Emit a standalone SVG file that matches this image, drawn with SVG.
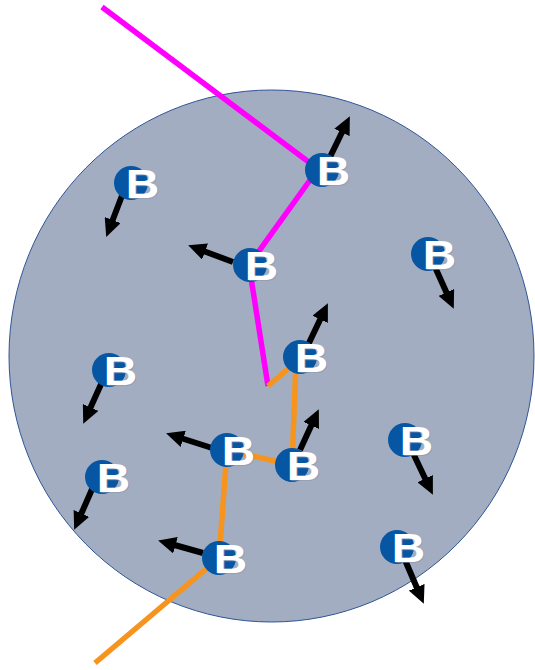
<svg xmlns="http://www.w3.org/2000/svg" width="535" height="670" viewBox="0 0 535 670">
  <style>
    .region { fill: #A3ADC2; stroke: #2F5597; stroke-width: 1; }
    .path-a { fill: none; stroke: #FF00FF; stroke-width: 5.5; stroke-linejoin: round; }
    .path-b { fill: none; stroke: #F7941D; stroke-width: 5.5; stroke-linejoin: round; }
    .vel { fill: none; stroke: #000000; stroke-width: 6; marker-end: url(#head); }
    .dot { fill: #0656A3; }
    .lbl { font-family: "Liberation Sans", Arial, sans-serif; font-weight: bold; font-size: 41px; text-anchor: middle; fill: #FFFFFF; }
    .lbl-sh { font-family: "Liberation Sans", Arial, sans-serif; font-weight: bold; font-size: 41px; text-anchor: middle; fill: #8C97AE; opacity: 0.6; }
  </style>
  <defs>
    <marker id="head" markerUnits="userSpaceOnUse" markerWidth="18" markerHeight="17" viewBox="0 0 18 17" refX="1" refY="8.5" orient="auto">
      <path d="M0,0 L18,8.5 L0,17 z" fill="#000000"/>
    </marker>
    <!-- particle: blue disc with a wide bold B -->
    <g id="particle">
      <circle class="dot" cx="0" cy="0" r="17"/>
      <text class="lbl-sh" transform="translate(12.5,15.5) scale(1.13,1)" x="0" y="0">B</text>
      <text class="lbl" transform="translate(11.5,14.5) scale(1.13,1)" x="0" y="0">B</text>
    </g>
  </defs>

  <ellipse class="region" cx="271.5" cy="356" rx="262.5" ry="266"/>

  <g id="connectors">
    <polyline class="path-a" points="102,7 318,169 249,265 268,386"/>
    <polyline class="path-b" points="268,386 296,362 292,465 227,450 219,558 95,663"/>
  </g>

  <g id="p1">
    <path class="vel" d="M123,193 L112.3,221"/>
    <use href="#particle" x="131" y="183"/>
  </g>
  <g id="p2">
    <path class="vel" d="M330,157 L342.4,131.5"/>
    <use href="#particle" x="322" y="170"/>
  </g>
  <g id="p3">
    <path class="vel" d="M233,262 L204.1,251.2"/>
    <use href="#particle" x="250" y="265"/>
  </g>
  <g id="p4">
    <path class="vel" d="M435,267 L446.8,293.3"/>
    <use href="#particle" x="428" y="254"/>
  </g>
  <g id="p5">
    <path class="vel" d="M308,345 L320.6,318.5"/>
    <use href="#particle" x="300" y="357"/>
  </g>
  <g id="p6">
    <path class="vel" d="M102,382 L90.2,408.3"/>
    <use href="#particle" x="109" y="370"/>
  </g>
  <g id="p7">
    <path class="vel" d="M212,448 L182.3,438.5"/>
    <use href="#particle" x="227" y="450"/>
  </g>
  <g id="p8">
    <path class="vel" d="M300,450 L311.7,424.6"/>
    <use href="#particle" x="292" y="465"/>
  </g>
  <g id="p9">
    <path class="vel" d="M413,453 L425.6,479.5"/>
    <use href="#particle" x="405" y="440"/>
  </g>
  <g id="p10">
    <path class="vel" d="M93,487 L81,514.3"/>
    <use href="#particle" x="102" y="477"/>
  </g>
  <g id="p11">
    <path class="vel" d="M203,553 L174.5,545"/>
    <use href="#particle" x="219" y="558"/>
  </g>
  <g id="p12">
    <path class="vel" d="M405,560 L417.1,588.2"/>
    <use href="#particle" x="397" y="547"/>
  </g>
</svg>
